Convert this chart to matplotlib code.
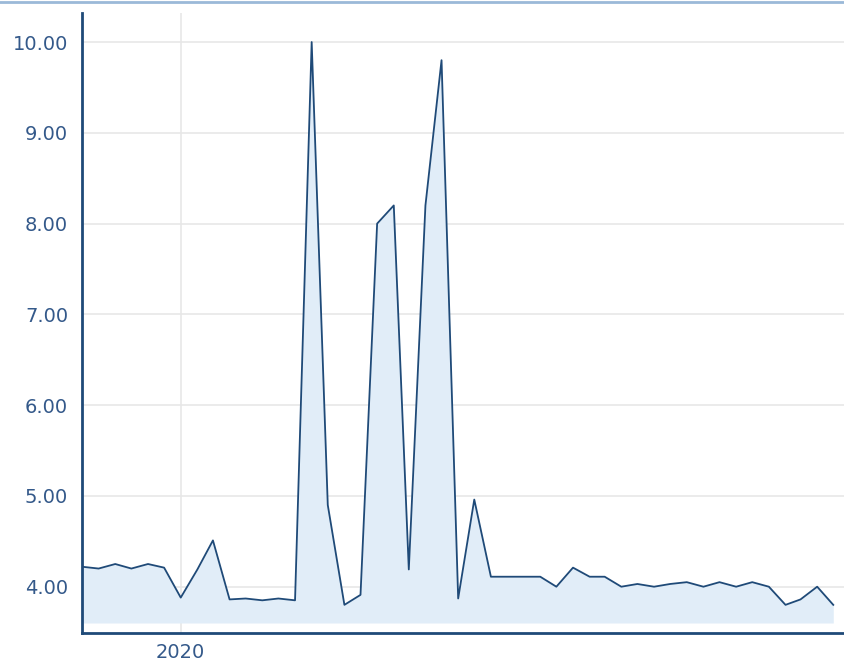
import matplotlib
matplotlib.use("Agg")
import matplotlib.pyplot as plt
import pandas as pd

dates = pd.date_range("2019-07-01", periods=47, freq="MS")
values = [4.22, 4.20, 4.25, 4.20, 4.25, 4.21, 3.88, 4.19, 4.51, 3.86,
          3.87, 3.85, 3.87, 3.85, 10.00, 4.90, 3.80, 3.91, 8.00, 8.20,
          4.19, 8.20, 9.80, 3.87, 4.96, 4.11, 4.11, 4.11, 4.11, 4.00,
          4.21, 4.11, 4.11, 4.00, 4.03, 4.00, 4.03, 4.05, 4.00, 4.05,
          4.00, 4.05, 4.00, 3.80, 3.86, 4.00, 3.80]
fill_base = 3.60
y_ticks = [4, 5, 6, 7, 8, 9, 10]
x_tick_dates = [pd.Timestamp("2020-01-01")]
x_tick_labels = ["2020"]

line_col = "#1f4a78"
fill_col = "#e1edf8"
text_col = "#34598a"
grid_col = "#e6e6e6"

fig = plt.figure(figsize=(8.44, 6.62), dpi=100)
ax = fig.add_axes([82/844, 29/662, 1 - 82/844, (633-13)/662])

ax.fill_between(dates, values, fill_base, color=fill_col, linewidth=0, zorder=1)
ax.plot(dates, values, color=line_col, linewidth=1.3, zorder=3)

ax.set_ylim(3.49, 10.32)
ax.set_xlim(dates[0], dates[-1] + pd.Timedelta(days=20))
ax.set_yticks(y_ticks)
ax.set_yticklabels([f"{v:.2f}" for v in y_ticks])
ax.set_xticks(x_tick_dates)
ax.set_xticklabels(x_tick_labels)

ax.grid(True, color=grid_col, linewidth=1.1, zorder=0)
ax.set_axisbelow(True)
ax.tick_params(axis="both", length=0, labelsize=14, labelcolor=text_col)
ax.tick_params(axis="y", pad=10)
ax.tick_params(axis="x", pad=7)

for s in ["top", "right"]:
    ax.spines[s].set_visible(False)
for s in ["left", "bottom"]:
    ax.spines[s].set_color(line_col)
    ax.spines[s].set_linewidth(2)

fig.add_artist(plt.Line2D([0, 1], [1 - 1.5/662, 1 - 1.5/662], color="#9bb9d8",
                          linewidth=2, transform=fig.transFigure))

fig.savefig("out.png", dpi=100)
